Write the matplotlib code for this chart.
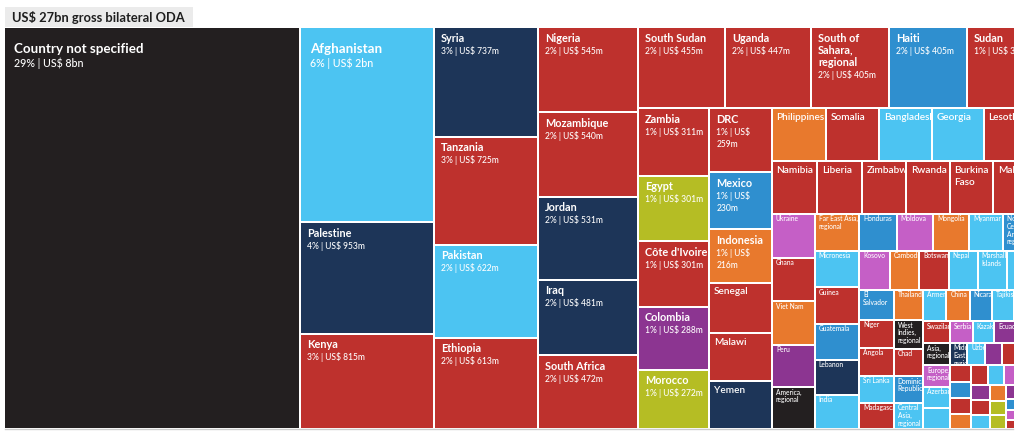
import matplotlib
matplotlib.use("Agg")
import matplotlib.pyplot as plt
from matplotlib.patches import Rectangle
from matplotlib.font_manager import FontProperties
from matplotlib.lines import Line2D

# ---------------- data (US$ millions) ----------------
names = [
    "Country not specified", "Afghanistan", "Palestine", "Kenya",
    "Syria", "Tanzania", "Pakistan", "Ethiopia",
    "Nigeria", "Mozambique", "Jordan", "Iraq", "South Africa",
    "South Sudan", "Uganda", "South of Sahara, regional", "Haiti", "Sudan",
    "Zambia", "Egypt", "Côte\u00a0d'Ivoire", "Colombia", "Morocco",
    "DRC", "Mexico", "Indonesia", "Senegal", "Malawi", "Yemen",
    "Philippines", "Somalia", "Bangladesh", "Georgia", "Lesotho",
    "Namibia", "Liberia", "Zimbabwe", "Rwanda", "Burkina Faso", "Mali",
    "Ukraine", "Ghana", "Viet Nam", "Peru", "America, regional",
    "Far East Asia, regional", "Micronesia", "Guinea", "Guatemala", "Lebanon", "India",
    "Honduras", "Moldova", "Mongolia", "Myanmar", "North & Central America, regional",
    "Kosovo", "Cambodia", "Botswana", "Nepal", "Marshall Islands", "",
    "El Salvador", "Niger", "Angola", "Sri Lanka", "Madagascar",
    "Thailand", "West Indies, regional", "Chad", "Dominican Republic", "Central Asia, regional",
    "Armenia", "China", "Nicaragua", "Tajikistan", "",
    "Swaziland", "Asia, regional", "Europe, regional", "Azerbaijan", "",
    "Serbia", "Kazakhstan", "Ecuador", "Brazil", "Middle East, regional", "Uzbekistan",
    "", "", "", "", "", "", "", "", "", "", "", "", "",
    "", "", "", "", "", "", "", "", "", "", "", "", "",
]
values = [
    7654, 1671, 953, 815,
    737, 725, 622, 613,
    545, 540, 531, 481, 472,
    455, 447, 405, 405, 355,
    311, 301, 301, 288, 272,
    259, 230, 216, 203, 195, 192,
    185, 183, 182, 178, 175,
    152, 150, 148, 146, 144, 140,
    122, 120, 119, 117, 115,
    106, 105, 104, 102, 100, 98,
    90, 88, 86, 81, 77,
    76, 74, 73, 73, 72, 71,
    66, 62, 61, 60, 58,
    57, 54, 52, 50, 49.5,
    47, 46.5, 45, 43.5, 43,
    38, 37.5, 37, 36.5, 36,
    32, 30, 28.5, 28, 25.5, 25,
    24.5, 24, 23.5, 23, 22.5, 22, 21.5, 21, 20.5, 20, 19.5, 19, 18,
    17, 16, 15, 14, 13, 12, 11, 10, 9, 8, 7, 6, 5,
]
regions = [
    "multi", "sca", "me", "ssa",
    "me", "ssa", "sca", "ssa",
    "ssa", "ssa", "me", "me", "ssa",
    "ssa", "ssa", "ssa", "nca", "ssa",
    "ssa", "nos", "ssa", "sam", "nos",
    "ssa", "nca", "fea", "ssa", "ssa", "me",
    "fea", "ssa", "sca", "sca", "ssa",
    "ssa", "ssa", "ssa", "ssa", "ssa", "ssa",
    "eur", "ssa", "fea", "sam", "multi",
    "fea", "oce", "ssa", "nca", "me", "sca",
    "nca", "eur", "fea", "sca", "nca",
    "eur", "fea", "ssa", "sca", "oce", "sca",
    "nca", "ssa", "ssa", "sca", "ssa",
    "fea", "multi", "ssa", "nca", "sca",
    "sca", "fea", "nca", "sca", "ssa",
    "ssa", "multi", "eur", "sca", "sca",
    "eur", "sca", "sam", "sam", "me", "sca",
    "sam", "ssa", "ssa", "ssa", "nca", "ssa", "fea", "ssa", "sca", "eur", "eur", "sam", "ssa",
    "sca", "fea", "nos", "nos", "sam", "ssa", "nca", "sca", "eur", "ssa", "ssa", "sca", "nos",
]

region_colors = {
    "multi": "#231f20", "sca": "#4cc4f2", "oce": "#4cc4f2", "me": "#1d3558",
    "ssa": "#be312d", "nos": "#b5bd24", "sam": "#8c3591", "nca": "#2f8fcf",
    "fea": "#e8792d", "eur": "#c55fc6",
}

FONT = "Lato"
FW, FH = 1024, 438
X0, Y0 = 4, 27          # top-left of treemap in pixels
H = 402                 # treemap height
LAYOUT_W = 1031         # full treemap width (partly clipped)
VIS_W = 1010            # visible width
RATIO = 1.2

total = sum(values)


def squarify(vals, x0, y0, x1, y1, ratio):
    out = []
    n = len(vals)
    i0 = 0
    value = sum(vals)
    while i0 < n:
        dx, dy = x1 - x0, y1 - y0
        i1 = i0
        s = vals[i1]
        i1 += 1
        mn = mx = s
        alpha = max(dy / dx, dx / dy) / (value * ratio)
        beta = s * s * alpha
        best = max(mx / beta, beta / mn)
        while i1 < n:
            v = vals[i1]
            s2 = s + v
            mn2, mx2 = min(mn, v), max(mx, v)
            beta = s2 * s2 * alpha
            r = max(mx2 / beta, beta / mn2)
            if r > best:
                break
            s, mn, mx, best = s2, mn2, mx2, r
            i1 += 1
        row = vals[i0:i1]
        if dx < dy:
            hh = dy * s / value
            x = x0
            for v in row:
                ww = dx * v / s
                out.append((x, y0, ww, hh))
                x += ww
            y0 += hh
        else:
            ww = dx * s / value
            y = y0
            for v in row:
                hh = dy * v / s
                out.append((x0, y, ww, hh))
                y += hh
            x0 += ww
        value -= s
        i0 = i1
    return out


order = sorted(range(len(values)), key=lambda i: -values[i])
vals_s = [values[i] for i in order]
names_s = [names[i] for i in order]
cols_s = [region_colors[regions[i]] for i in order]
rects = squarify(vals_s, 0, 0, LAYOUT_W, H, RATIO)

fig = plt.figure(figsize=(FW / 100, FH / 100), dpi=100)
fig.patch.set_facecolor("white")
renderer = fig.canvas.get_renderer()


def text_w(s, fp):
    w, h, d = renderer.get_text_width_height_descent(s, fp, ismath=False)
    return w


def calib(sample, target_px, weight):
    fp = FontProperties(family=FONT, weight=weight, size=10)
    size = 10 * target_px / text_w(sample, fp)
    return FontProperties(family=FONT, weight=weight, size=size)


styles = {
    1: dict(name=calib("Country not specified", 129, "bold"),
            sub=calib("29% | US$ 8bn", 70, "medium"),
            pad=8.5, base=25.3, lead=13.4, cap=10),
    2: dict(name=calib("Mozambique", 63, "bold"),
            sub=calib("2% | US$ 540m", 58, "medium"),
            pad=6, base=13.5, lead=12, cap=8.5),
    3: dict(name=calib("Philippines", 48, "semibold"), sub=None,
            pad=3.5, base=10.5, lead=11.7, cap=7),
    4: dict(name=calib("Honduras", 29, "medium"), sub=None,
            pad=3, base=6.5, lead=7.7, cap=5),
}


def tier(v):
    if v >= 1000:
        return 1
    if v >= 210:
        return 2
    if v >= 135:
        return 3
    return 4


def wrap(text, fp, avail):
    lines, cur = [], ""
    for wd in text.split(" "):
        cand = wd if not cur else cur + " " + wd
        if not cur or text_w(cand, fp) <= avail:
            cur = cand
        else:
            lines.append(cur)
            cur = wd
    if cur:
        lines.append(cur)
    return lines


def fmt_amount(v):
    if v >= 1000:
        return f"{v / 1000:.0f}bn"
    return f"{v:.0f}m"


ax = fig.add_axes([X0 / FW, (FH - Y0 - H) / FH, VIS_W / FW, H / FH])
ax.set_xlim(0, VIS_W)
ax.set_ylim(H, 0)
ax.set_axis_off()

for (x, y, w, h), col in zip(rects, cols_s):
    ax.add_patch(Rectangle((x + 1, y + 1), w - 2, h - 2, facecolor=col,
                           edgecolor="none", zorder=1))

for (x, y, w, h), nm, v in zip(rects, names_s, vals_s):
    if not nm:
        continue
    left, top = x + 1, y + 1
    right = min(x + w - 1, VIS_W)
    bottom = y + h - 1
    if right - left <= 1:
        continue
    st = styles[tier(v)]
    avail = (w - 2) - st["pad"]
    lines = [(l, st["name"]) for l in wrap(nm, st["name"], avail)]
    if st["sub"] is not None:
        pct = round(100 * v / total)
        sub = f"{pct}% | US$ {fmt_amount(v)}"
        lines += [(l, st["sub"]) for l in wrap(sub, st["sub"], avail - 1)]
    clip = Rectangle((left, top), right - left, h - 2, transform=ax.transData)
    yb = top + st["base"]
    for k, (line, fp) in enumerate(lines):
        if k > 0:
            yb += st["lead"]
        if yb - st["cap"] > bottom - 1:
            break
        t = ax.text(left + st["pad"], yb, line, fontproperties=fp, color="white",
                    ha="left", va="baseline", zorder=3, clip_on=True)
        t.set_clip_path(clip)

# bottom border line
fig.add_artist(Line2D([5 / FW, 1013 / FW], [(FH - 429) / FH] * 2,
                      transform=fig.transFigure, color="#cccccc", lw=1))

# title
title = f"US$ {total / 1000:.0f}bn gross bilateral ODA"
tfp = calib("US$ 27bn gross bilateral ODA", 172, "bold")
tw = text_w(title, tfp)
fig.patches.append(Rectangle((5 / FW, (FH - 27) / FH), (tw + 15) / FW, 20 / FH,
                             transform=fig.transFigure, facecolor="#ebebeb",
                             edgecolor="none", zorder=0))
fig.text(12 / FW, (FH - 21.5) / FH, title, fontproperties=tfp, color="#1e1e1e",
         ha="left", va="baseline")

fig.savefig("out.png", dpi=100, facecolor="white")
